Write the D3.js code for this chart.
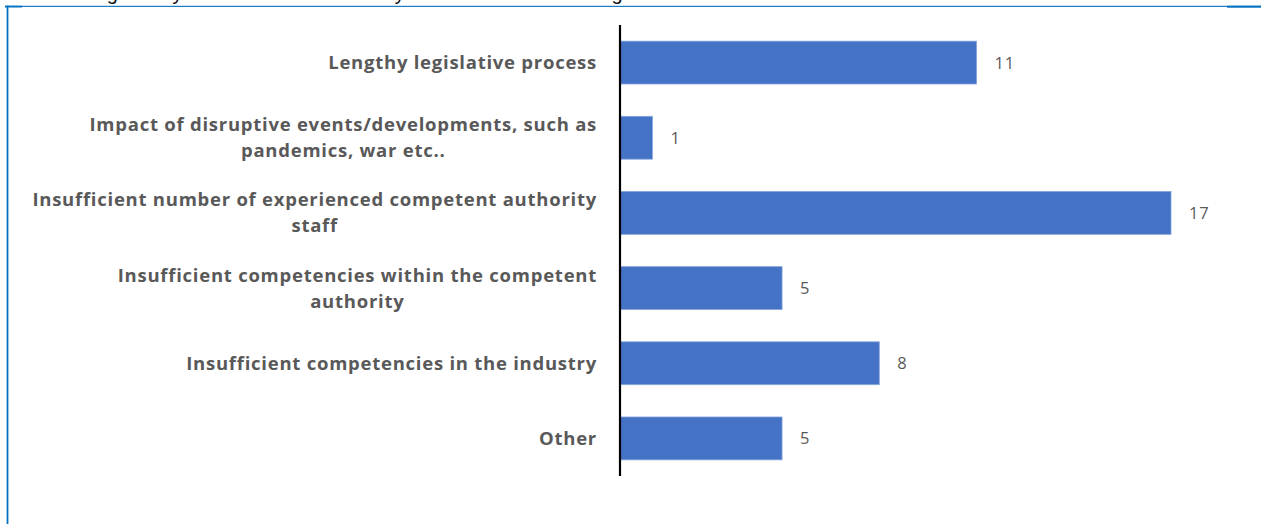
<!DOCTYPE html>
<html>
<head>
<meta charset="utf-8">
<script src="https://cdn.jsdelivr.net/npm/d3@7"></script>
<style>
  html, body { margin: 0; padding: 0; background: #ffffff; }
  svg { display: block; }
</style>
</head>
<body>
<script>
// Reasons reported for delays, with number of responses
const categories = [
  ["Lengthy legislative process"],
  ["Impact of disruptive events/developments, such as", "pandemics, war etc.."],
  ["Insufficient number of experienced competent authority", "staff"],
  ["Insufficient competencies within the competent", "authority"],
  ["Insufficient competencies in the industry"],
  ["Other"]
];
const counts = [11, 1, 17, 5, 8, 5];
const headingText = "Challenges may hinder the full and timely rollout of the new changes";

const W = 1261, H = 524;
const svg = d3.select("body").append("svg").attr("width", W).attr("height", H);

// Frame lines of the surrounding text box
const frame = svg.append("g").attr("fill", "#0070C0");
frame.append("rect").attr("x", 5).attr("y", 5.8).attr("width", W - 5).attr("height", 1.1);
frame.append("rect").attr("x", 5).attr("y", 5.7).attr("width", 17).attr("height", 1.8);
frame.append("rect").attr("x", 1227).attr("y", 5.7).attr("width", W - 1227).attr("height", 2);
frame.append("rect").attr("x", 6.6).attr("y", 5.8).attr("width", 1.8).attr("height", H);

// Heading line above the box (only its lower part falls inside the page)
svg.append("text")
  .attr("x", 39).attr("y", -0.3)
  .attr("font-family", "Liberation Sans, Arial, sans-serif")
  .attr("font-size", 20)
  .attr("fill", "#111")
  .text(headingText);

const ids = d3.range(categories.length);
const y = d3.scaleBand()
  .domain(ids)
  .range([25, 476])
  .paddingInner(0.43)
  .paddingOuter(0.215);

const x = d3.scaleLinear()
  .domain([0, 17])
  .range([620, 1171]);

// Bars
svg.append("g").selectAll("rect")
  .data(ids)
  .join("rect")
  .attr("x", x(0))
  .attr("y", i => y(i))
  .attr("width", i => x(counts[i]) - x(0))
  .attr("height", y.bandwidth())
  .attr("fill", "#4472C4")
  .attr("stroke", "#86a3dc")
  .attr("stroke-width", 0.8);

// Value labels
svg.append("g").selectAll("text")
  .data(ids)
  .join("text")
  .attr("x", i => x(counts[i]) + 18)
  .attr("y", i => y(i) + y.bandwidth() / 2)
  .attr("dy", "0.36em")
  .attr("font-family", "Open Sans, sans-serif")
  .attr("font-size", 16.5)
  .attr("letter-spacing", 0.8)
  .attr("fill", "#595959")
  .text(i => counts[i]);

// Category axis
const axis = svg.append("g")
  .attr("transform", `translate(${x(0)},0)`)
  .call(d3.axisLeft(y).tickSize(0).tickFormat(""));
axis.select(".domain")
  .attr("d", "M0,25V476")
  .attr("stroke", "#000")
  .attr("stroke-width", 2.2);

// Category labels: right edge at the axis gap, lines centred on each other
const labelRight = 597;
const lineGap = 26;
const labels = svg.append("g")
  .attr("font-family", "Open Sans, sans-serif")
  .attr("font-weight", 700)
  .attr("font-size", 18.5)
  .attr("letter-spacing", 0.75)
  .attr("fill", "#595959");

ids.forEach(i => {
  const lines = categories[i];
  const cy = y(i) + y.bandwidth() / 2;
  const grp = labels.append("g");
  const nodes = lines.map((ln, k) => grp.append("text")
    .attr("y", cy + (k - (lines.length - 1) / 2) * lineGap)
    .attr("dy", "0.35em")
    .attr("text-anchor", "middle")
    .text(ln));
  const maxW = d3.max(nodes, n => n.node().getComputedTextLength());
  nodes.forEach(n => n.attr("x", labelRight - maxW / 2));
});
</script>
</body>
</html>
